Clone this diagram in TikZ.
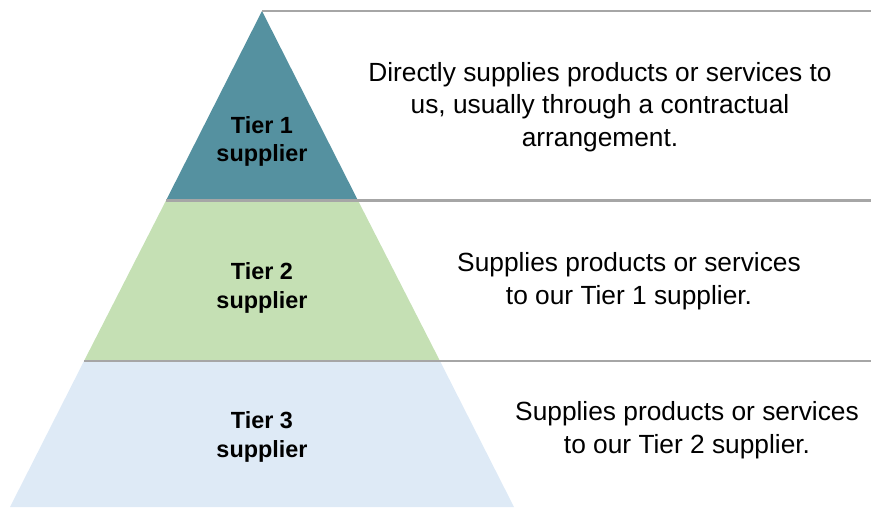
\documentclass[tikz,border=0pt]{standalone}
\usepackage{fontspec}
\setmainfont{Liberation Sans}
\definecolor{tierone}{HTML}{5591A0}
\definecolor{tiertwo}{HTML}{C5E0B4}
\definecolor{tierthree}{HTML}{DEEAF6}
\definecolor{sepline}{HTML}{A6A6A6}
\begin{document}
\begin{tikzpicture}[x=1pt,y=-1pt,
  label/.style={align=center,font=\fontsize{23.4}{28.5}\selectfont\bfseries,inner sep=0pt},
  desc/.style={align=center,font=\fontsize{26.3}{32.5}\selectfont,inner sep=0pt},
  sep/.style={draw=sepline,line width=2.6pt}]
\useasboundingbox (0,0) rectangle (871,507);
% pyramid corner coordinates
\coordinate (apex) at (262,11);
\coordinate (l1) at (166,200.5);
\coordinate (r1) at (358,200.5);
\coordinate (l2) at (84,361);
\coordinate (r2) at (440,361);
\coordinate (l3) at (10,507);
\coordinate (r3) at (514,507);
\coordinate (e0) at (871,11);
\coordinate (e1) at (871,200.5);
\coordinate (e2) at (871,361);
% fills
\fill[tierone] (apex) -- (r1) -- (l1) -- cycle;
\fill[tiertwo] (l1) -- (r1) -- (r2) -- (l2) -- cycle;
\fill[tierthree] (l2) -- (r2) -- (r3) -- (l3) -- cycle;
% separator lines
\draw[sep] (apex) -- (e0);
\draw[sep] (l1) -- (e1);
\draw[sep] (l2) -- (e2);
% labels
\node[label] (t1) at (262,141.5) {Tier 1\\supplier};
\node[label] (t2) at (262,288) {Tier 2\\supplier};
\node[label] (t3) at (262,437) {Tier 3\\supplier};
% descriptions
\node[desc] (d1) at (600,107) {Directly supplies products or services to\\us, usually through a contractual\\arrangement.};
\node[desc] (d2) at (629,281) {Supplies products or services\\to our Tier 1 supplier.};
\node[desc] (d3) at (687,430) {Supplies products or services\\to our Tier 2 supplier.};
\end{tikzpicture}
\end{document}
